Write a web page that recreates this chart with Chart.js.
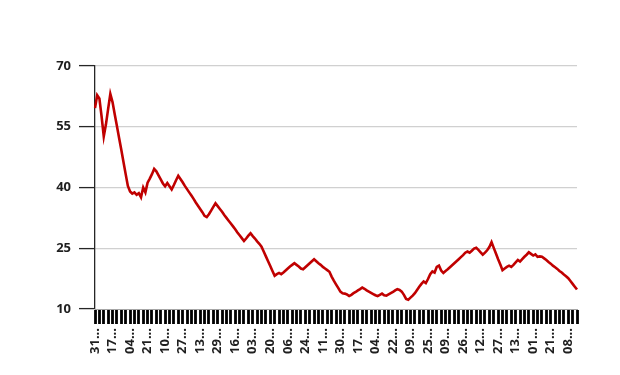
<!DOCTYPE html>
<html>
<head>
<meta charset="utf-8">
<script src="https://cdn.jsdelivr.net/npm/chart.js@4/dist/chart.umd.min.js"></script>
<style>
  html, body { margin: 0; padding: 0; background: #ffffff; }
  #wrap { width: 620px; height: 375px; }
</style>
</head>
<body>
<div id="wrap"><canvas id="c" width="620" height="375"></canvas></div>
<script>
// Tick labels shown on the x axis (every 8th data point), as they appear (truncated)
const tickLabels = ["31...","17...","04...","21...","10...","27...","13...","29...","16...","03...",
  "20...","06...","24...","11...","30...","17...","04...","22...","09...","25...",
  "09...","26...","12...","27...","13...","01...","21...","08..."];

// Series values
const valuesA = [59.6,62.8,62.0,57.6,52.6,55.6,59.4,63.1,61.1,58.1,55.2,52.2,49.3,46.3,43.3,40.4,
  39.0,38.5,38.8,38.2,38.6,37.6,40.0,38.8,41.2,42.2,43.3,44.6,44.0,43.0,42.0,41.0,40.3,41.1,40.3,
  39.5,40.6,41.8,42.9,42.1,41.3,40.4,39.6,38.8,38.0,37.2,36.3,35.5,34.7,33.9,33.0,32.7,33.4,34.3,
  35.2,36.1];
const valuesB = [35.4,34.7,34.0,33.2,32.5,31.8,31.1,30.4,29.7,28.9,28.2,27.5,26.8,27.4,28.1,28.7,
  28.0,27.4,26.7,26.1,25.4,24.2,23.0,21.8,20.6,19.4,18.2,18.6,18.9,18.6,19.0,19.5,20.0,20.5,20.9,
  21.3,20.9,20.5,20.0,19.8,20.3,20.8,21.3,21.8,22.3,21.8,21.3,20.9,20.4,20.0,19.6,19.2,18.0,17.0,
  16.1,15.2];
const valuesC = [14.3,13.9,13.8,13.6,13.2,13.5,13.9,14.2,14.6,14.9,15.3,15.0,14.6,14.3,14.0,13.7,
  13.4,13.2,13.5,13.8,13.4,13.3,13.6,13.9,14.2,14.6,14.9,14.7,14.3,13.5,12.5,12.3,12.8,13.3,13.9,
  14.7,15.5,16.2,16.8,16.4,17.4,18.6,19.3,19.0,20.4,20.7,19.5,18.9,19.4,19.8,20.3,20.8,21.3,21.8,
  22.3,22.8];
const valuesD = [23.3,23.9,24.2,23.9,24.4,24.9,25.1,24.6,24.0,23.4,23.9,24.5,25.3,26.5,25.1,23.7,
  22.3,21.0,19.6,20.0,20.4,20.7,20.4,20.9,21.5,22.1,21.7,22.3,22.9,23.4,24.0,23.6,23.2,23.5,22.9,
  23.0,22.9,22.5,22.1,21.6,21.2,20.7,20.3,19.9,19.4,19.0,18.5,18.1,17.6,16.9,16.2,15.5,14.8];
const values = valuesA.concat(valuesB, valuesC, valuesD);

const yTicks = [10, 25, 40, 55, 70];

// category labels: every 8th point carries a visible tick label
const categories = values.map((v, i) => (i % 8 === 0 ? (tickLabels[i / 8] || '') : ''));

const fontFamily = "'Open Sans', 'Liberation Sans', Arial, sans-serif";

new Chart(document.getElementById('c'), {
  type: 'line',
  data: {
    labels: categories,
    datasets: [{
      data: values,
      borderColor: '#c00000',
      borderWidth: 2.6,
      pointRadius: 0,
      pointHoverRadius: 0,
      tension: 0,
      fill: false,
      borderJoinStyle: 'miter'
    }]
  },
  options: {
    responsive: false,
    devicePixelRatio: 1,
    animation: false,
    layout: { padding: { top: 66, right: 43, bottom: 0, left: 0 } },
    plugins: { legend: { display: false }, tooltip: { enabled: false } },
    scales: {
      x: {
        type: 'category',
        offset: false,
        afterFit: (s) => { s.height = 66; },
        grid: {
          display: true,
          drawOnChartArea: false,
          drawTicks: true,
          tickLength: 15,
          tickWidth: 2.8,
          tickColor: (ctx) => (ctx.index % 2 === 0 ? '#000000' : 'rgba(0,0,0,0)')
        },
        border: { display: true, color: '#a6a6a6', width: 1 },
        ticks: {
          autoSkip: false,
          minRotation: 90,
          maxRotation: 90,
          padding: 4,
          color: '#1f1f1f',
          font: { family: fontFamily, size: 13, weight: 'bold' },
          callback: function (val, idx) { return categories[idx]; }
        }
      },
      y: {
        min: 10,
        max: 70,
        afterFit: (s) => { s.width = 95; },
        afterBuildTicks: (s) => { s.ticks = yTicks.map(v => ({ value: v })); },
        grid: {
          color: (ctx) => (ctx.tick && ctx.tick.value === 10 ? 'rgba(0,0,0,0)' : '#d0d0d0'),
          lineWidth: 1.2,
          drawTicks: true,
          tickLength: 16,
          tickColor: '#262626',
          tickWidth: 1.3
        },
        border: { display: true, color: '#262626', width: 1.3 },
        ticks: {
          padding: 8,
          color: '#1f1f1f',
          font: { family: fontFamily, size: 13, weight: 'bold' }
        }
      }
    }
  }
});
</script>
</body>
</html>
